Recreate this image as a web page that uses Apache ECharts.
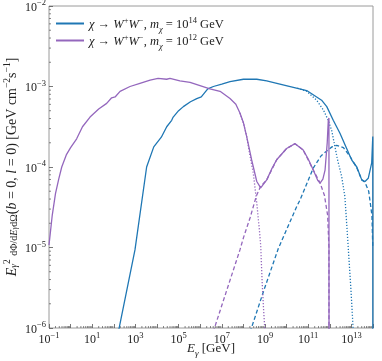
<!DOCTYPE html>
<html>
<head>
<meta charset="utf-8">
<script src="https://cdn.jsdelivr.net/npm/echarts@6/dist/echarts.min.js"></script>
<style>
  html, body { margin: 0; padding: 0; background: #fff; }
  #chart { width: 382px; height: 361px; }
</style>
</head>
<body>
<div id="chart"></div>
<script>
// values as [log10 E, log10 flux]
const blueTotal = [
  [2.21, -6.05], [2.98, -5.03], [3.52, -4.0], [3.85, -3.75], [4.2, -3.63], [4.45, -3.5],
  [4.68, -3.42], [4.75, -3.38], [5.0, -3.3], [5.22, -3.25], [5.55, -3.19], [5.84, -3.15],
  [6.05, -3.13], [6.2, -3.08], [6.35, -3.03], [6.61, -3.0], [7.0, -2.97], [7.38, -2.94], [8.0, -2.91],
  [8.62, -2.91], [9.08, -2.93], [9.69, -2.97], [10.31, -3.01], [10.93, -3.05], [11.39, -3.13],
  [11.62, -3.17], [11.86, -3.25], [12.16, -3.42], [12.47, -3.58], [12.78, -3.77], [13.01, -3.91],
  [13.25, -4.0], [13.48, -4.16], [13.63, -4.18], [13.78, -4.14], [13.94, -3.95], [13.99, -3.62],
  [13.995, -7]
]
const bluePrompt = [
  [10.5, -3.02], [10.93, -3.06], [11.39, -3.17], [11.7, -3.29], [11.93, -3.42], [12.09, -3.55],
  [12.24, -3.75], [12.35, -3.9], [12.55, -4.12], [12.7, -4.37], [12.78, -4.7], [12.86, -5.03],
  [12.98, -5.53], [13.09, -6.05]
]
const blueSecondary = [
  [8.31, -6.05], [8.95, -5.53], [9.62, -5.01], [10.47, -4.49], [10.62, -4.41], [11.24, -4.01],
  [11.6, -3.86], [11.86, -3.8], [12.1, -3.75], [12.32, -3.73], [12.63, -3.76], [12.94, -3.87],
  [13.25, -4.01], [13.48, -4.16], [13.63, -4.19], [13.8, -4.3], [13.95, -4.6], [13.99, -5]
]
const purpleTotal = [
  [-1, -4.97], [-0.85, -4.6], [-0.7, -4.33], [-0.55, -4.15], [-0.41, -4.0], [-0.2, -3.85],
  [0.0, -3.76], [0.28, -3.65], [0.55, -3.5], [0.9, -3.38], [1.3, -3.28], [1.67, -3.21],
  [1.9, -3.14], [2.06, -3.13], [2.29, -3.06], [2.75, -3.0], [3.21, -2.96], [3.68, -2.92],
  [4.05, -2.9], [4.45, -2.91], [4.6, -2.9], [5.06, -2.93], [5.53, -2.95], [5.99, -2.99],
  [6.45, -3.03], [6.92, -3.06], [7.38, -3.15], [7.65, -3.22], [7.84, -3.33], [8.0, -3.45],
  [8.15, -3.62], [8.38, -3.91], [8.62, -4.18], [8.8, -4.26], [9.08, -4.16], [9.3, -4.03],
  [9.54, -3.91], [10.0, -3.77], [10.39, -3.71], [10.77, -3.79], [11.0, -3.9], [11.24, -4.04],
  [11.45, -4.17], [11.55, -4.2], [11.68, -4.15], [11.78, -4.04], [11.88, -3.7], [11.93, -3.42],
  [11.96, -3.39], [11.965, -7]
]
const purplePrompt = [
  [7.84, -3.33], [8.0, -3.45], [8.15, -3.62], [8.3, -3.85], [8.46, -4.08], [8.62, -4.45],
  [8.74, -4.78], [8.8, -4.98], [8.87, -5.44], [8.93, -5.75], [9.0, -6.05]
]
const purpleSecondary = [
  [6.6, -6.05], [7.23, -5.53], [7.84, -5.03], [8.0, -4.88], [8.31, -4.63], [8.6, -4.36],
  [8.8, -4.24], [9.08, -4.16], [9.54, -3.91], [10.0, -3.77], [10.39, -3.71], [10.77, -3.79],
  [11.24, -4.04], [11.55, -4.2], [11.75, -4.35], [11.9, -4.6], [11.96, -5], [11.965, -7]
]

const legendNames = ['m14', 'm12']
const legendExponents = { m14: '14', m12: '12' }
const xRange = [-1, 14]
const yRange = [-6, -2]

const BLUE = '#1f77b4'
const PURPLE = '#9467bd'
const SERIF = '"Liberation Serif", "DejaVu Serif", serif'
const INK = '#222'

const toPts = arr => arr.map(([a, b]) => [Math.pow(10, a), Math.pow(10, b)])

const minus = s => String(s).replace('-', '\u2212')
const supLabel = v => {
  const e = Math.round(Math.log10(v))
  return '{b|10}{s|' + minus(e) + '}'
}

const labelRich = {
  b: { fontFamily: SERIF, fontSize: 12, color: INK, lineHeight: 15, verticalAlign: 'bottom' },
  s: { fontFamily: SERIF, fontSize: 8.5, color: INK, lineHeight: 10, verticalAlign: 'top' }
}

// matplotlib style minor ticks at 2..9 x 10^n
const xMinor = []
for (let e = xRange[0]; e < xRange[1]; e++) {
  for (let k = 2; k <= 9; k++) xMinor.push(k * Math.pow(10, e))
}
const yMinor = []
for (let e = yRange[0]; e < yRange[1]; e++) {
  for (let k = 2; k <= 9; k++) yMinor.push(k * Math.pow(10, e))
}

const lineSeries = (name, data, color, type) => ({
  name,
  type: 'line',
  data: toPts(data),
  showSymbol: false,
  symbol: 'none',
  clip: true,
  animation: false,
  z: type === 'solid' ? 3 : 2,
  itemStyle: { color },
  lineStyle: { color, width: 1.3, type }
})

const chart = echarts.init(document.getElementById('chart'), null, { renderer: 'canvas' })

const option = {
  animation: false,
  grid: {
    left: 49, right: 9, top: 6, bottom: 33,
    outerBoundsMode: 'none',
    containLabel: false,
    show: true, borderColor: '#9a9a9a', borderWidth: 1
  },
  legend: {
    data: legendNames,
    left: 51,
    top: 11,
    orient: 'vertical',
    itemWidth: 28,
    itemHeight: 2,
    itemGap: -1,
    icon: 'rect',
    formatter: n =>
      '{i|\u03c7}{n| \u2192 }{i|W}{sp|+}{i|W}{sp|\u2212}{n|, }{i|m}{sb|\u03c7}{n| = 10}{sp|' +
      legendExponents[n] + '}{n| GeV}',
    textStyle: {
      rich: {
        n: { fontFamily: SERIF, fontSize: 12.5, color: INK, lineHeight: 15, verticalAlign: 'bottom' },
        i: { fontFamily: SERIF, fontSize: 12.5, fontStyle: 'italic', color: INK, lineHeight: 15, verticalAlign: 'bottom' },
        sp: { fontFamily: SERIF, fontSize: 8.5, color: INK, lineHeight: 10, verticalAlign: 'top' },
        sb: { fontFamily: SERIF, fontSize: 8.5, fontStyle: 'italic', color: INK, lineHeight: 10, verticalAlign: 'bottom', padding: [0, 0, -3, 0] }
      }
    }
  },
  xAxis: {
    type: 'log',
    logBase: 10,
    min: Math.pow(10, xRange[0]),
    max: Math.pow(10, xRange[1]),
    interval: 1,
    name: '{i|E}{sb|\u03b3}{n| [GeV]}',
    nameLocation: 'middle',
    nameGap: 14,
    nameMoveOverlap: false,
    nameTextStyle: {
      rich: {
        n: { fontFamily: SERIF, fontSize: 13, color: INK, lineHeight: 16, verticalAlign: 'top' },
        i: { fontFamily: SERIF, fontSize: 13, fontStyle: 'italic', color: INK, lineHeight: 16, verticalAlign: 'top' },
        sb: { fontFamily: SERIF, fontSize: 9, fontStyle: 'italic', color: INK, lineHeight: 10, verticalAlign: 'bottom' }
      }
    },
    axisLine: { show: false },
    axisTick: { show: true, inside: true, length: 4, lineStyle: { color: '#555', width: 0.8 } },
    splitLine: { show: false },
    axisLabel: {
      margin: 3,
      interval: 0,
      hideOverlap: false,
      formatter: v => {
        const e = Math.round(Math.log10(v))
        return Math.abs(e) % 2 === 1 ? supLabel(v) : ''
      },
      rich: labelRich
    }
  },
  yAxis: {
    type: 'log',
    logBase: 10,
    min: Math.pow(10, yRange[0]),
    max: Math.pow(10, yRange[1]),
    interval: 1,
    name: '{i|E}{sb|\u03b3}{sp|2}{n| }{fr|d\u03a6/d}{fri|E}{frs|\u03b3}{fr|d\u03a9}{n|(}{i|b}{n| = 0, }{i|l}{n| = 0) [GeV cm}{sp|\u22122}{n|s}{sp|\u22121}{n|]}',
    nameLocation: 'middle',
    nameRotate: 90,
    nameGap: 30,
    nameMoveOverlap: false,
    nameTextStyle: {
      rich: {
        n: { fontFamily: SERIF, fontSize: 14, color: INK, lineHeight: 17, verticalAlign: 'bottom' },
        i: { fontFamily: SERIF, fontSize: 14, fontStyle: 'italic', color: INK, lineHeight: 17, verticalAlign: 'bottom' },
        sp: { fontFamily: SERIF, fontSize: 9.5, color: INK, lineHeight: 10, verticalAlign: 'top' },
        sb: { fontFamily: SERIF, fontSize: 9.5, fontStyle: 'italic', color: INK, lineHeight: 10, verticalAlign: 'bottom' },
        fr: { fontFamily: SERIF, fontSize: 10, color: INK, lineHeight: 17, verticalAlign: 'bottom' },
        fri: { fontFamily: SERIF, fontSize: 10, fontStyle: 'italic', color: INK, lineHeight: 17, verticalAlign: 'bottom' },
        frs: { fontFamily: SERIF, fontSize: 7.5, fontStyle: 'italic', color: INK, lineHeight: 12, verticalAlign: 'bottom' }
      }
    },
    axisLine: { show: false },
    axisTick: { show: true, inside: true, length: 4, lineStyle: { color: '#555', width: 0.8 } },
    splitLine: { show: false },
    axisLabel: { margin: 3, formatter: supLabel, rich: labelRich }
  },
  series: [
    lineSeries('m14', blueTotal, BLUE, 'solid'),
    lineSeries('b-prompt', bluePrompt, BLUE, [1.2, 1.8]),
    lineSeries('b-sec', blueSecondary, BLUE, [4, 2.5]),
    lineSeries('m12', purpleTotal, PURPLE, 'solid'),
    lineSeries('p-prompt', purplePrompt, PURPLE, [1.2, 1.8]),
    lineSeries('p-sec', purpleSecondary, PURPLE, [4, 2.5]),
    {
      type: 'custom',
      silent: true,
      animation: false,
      data: xMinor.map(v => [v, Math.pow(10, yRange[0])]),
      renderItem: (params, api) => {
        const p = api.coord([api.value(0), api.value(1)])
        return {
          type: 'line',
          shape: { x1: p[0], y1: p[1], x2: p[0], y2: p[1] - 2 },
          style: { stroke: '#555', lineWidth: 0.7 }
        }
      }
    },
    {
      type: 'custom',
      silent: true,
      animation: false,
      data: yMinor.map(v => [Math.pow(10, xRange[0]), v]),
      renderItem: (params, api) => {
        const p = api.coord([api.value(0), api.value(1)])
        return {
          type: 'line',
          shape: { x1: p[0], y1: p[1], x2: p[0] + 2, y2: p[1] },
          style: { stroke: '#555', lineWidth: 0.7 }
        }
      }
    }
  ]
}

chart.setOption(option)
</script>
</body>
</html>
